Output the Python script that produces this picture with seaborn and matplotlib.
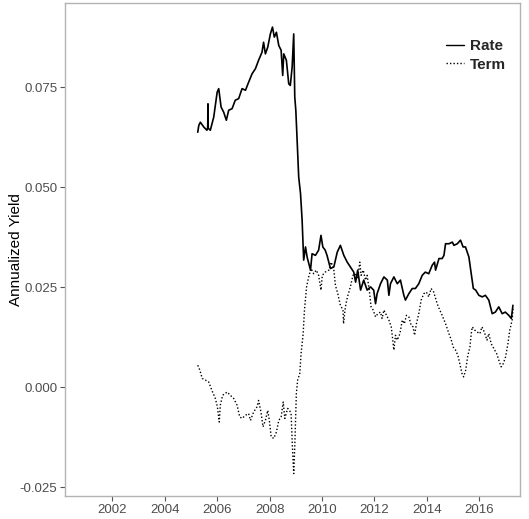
"""
Annualized yield: short rate vs term spread, recreated with seaborn.
"""

import pandas as pd
import matplotlib.pyplot as plt
import seaborn as sns

# Rate series (decimal year, annualized yield)
rate_year = [
    2005.26, 2005.30, 2005.36, 2005.49, 2005.61, 2005.64, 2005.65, 2005.66, 2005.74, 2005.87,
    2006.00, 2006.06, 2006.15, 2006.25, 2006.35, 2006.44, 2006.57, 2006.69, 2006.82, 2006.95,
    2007.08, 2007.20, 2007.33, 2007.46, 2007.58, 2007.71, 2007.77, 2007.84, 2007.93, 2008.03,
    2008.11, 2008.18, 2008.26, 2008.35, 2008.44, 2008.50, 2008.54, 2008.64, 2008.73, 2008.79,
    2008.86, 2008.92, 2008.96, 2009.00, 2009.05, 2009.11, 2009.18, 2009.24, 2009.28, 2009.30,
    2009.37, 2009.43, 2009.56, 2009.62, 2009.75, 2009.87, 2009.96, 2010.03, 2010.12, 2010.19,
    2010.32, 2010.45, 2010.58, 2010.70, 2010.83, 2010.96, 2011.08, 2011.21, 2011.28, 2011.36,
    2011.47, 2011.59, 2011.72, 2011.85, 2011.97, 2012.04, 2012.10, 2012.23, 2012.36, 2012.49,
    2012.55, 2012.61, 2012.74, 2012.87, 2012.99, 2013.12, 2013.18, 2013.31, 2013.44, 2013.56,
    2013.69, 2013.82, 2013.94, 2014.07, 2014.20, 2014.29, 2014.33, 2014.46, 2014.58, 2014.65,
    2014.71, 2014.84, 2014.97, 2015.03, 2015.16, 2015.28, 2015.38, 2015.47, 2015.60, 2015.69,
    2015.77, 2015.86, 2015.98, 2016.11, 2016.23, 2016.36, 2016.49, 2016.61, 2016.74, 2016.87,
    2016.99, 2017.12, 2017.22, 2017.28,
]
rate_value = [
    0.0638, 0.0655, 0.0663, 0.0651, 0.0643, 0.0650, 0.0709, 0.0648, 0.0643, 0.0676,
    0.0738, 0.0747, 0.0701, 0.0688, 0.0668, 0.0693, 0.0697, 0.0718, 0.0722, 0.0747,
    0.0743, 0.0763, 0.0784, 0.0797, 0.0818, 0.0838, 0.0863, 0.0834, 0.0851, 0.0884,
    0.0901, 0.0876, 0.0888, 0.0855, 0.0843, 0.0780, 0.0834, 0.0818, 0.0759, 0.0755,
    0.0801, 0.0884, 0.0726, 0.0693, 0.0618, 0.0526, 0.0484, 0.0418, 0.0351, 0.0318,
    0.0351, 0.0326, 0.0293, 0.0334, 0.0330, 0.0343, 0.0380, 0.0351, 0.0343, 0.0330,
    0.0297, 0.0301, 0.0338, 0.0355, 0.0330, 0.0313, 0.0301, 0.0288, 0.0263, 0.0293,
    0.0243, 0.0268, 0.0243, 0.0251, 0.0243, 0.0209, 0.0234, 0.0259, 0.0276, 0.0268,
    0.0230, 0.0259, 0.0276, 0.0259, 0.0268, 0.0230, 0.0218, 0.0234, 0.0247, 0.0247,
    0.0259, 0.0280, 0.0288, 0.0284, 0.0305, 0.0313, 0.0293, 0.0322, 0.0322, 0.0330,
    0.0359, 0.0359, 0.0363, 0.0355, 0.0359, 0.0368, 0.0351, 0.0351, 0.0326, 0.0284,
    0.0247, 0.0243, 0.0230, 0.0226, 0.0230, 0.0218, 0.0184, 0.0188, 0.0201, 0.0184,
    0.0188, 0.0180, 0.0172, 0.0205,
]

# Term series (decimal year, annualized yield)
term_year = [
    2005.26, 2005.34, 2005.43, 2005.55, 2005.68, 2005.80, 2005.93, 2006.01, 2006.08, 2006.12,
    2006.21, 2006.38, 2006.50, 2006.63, 2006.76, 2006.86, 2006.95, 2007.08, 2007.20, 2007.27,
    2007.39, 2007.52, 2007.58, 2007.67, 2007.75, 2007.84, 2007.93, 2007.99, 2008.06, 2008.16,
    2008.26, 2008.35, 2008.44, 2008.52, 2008.58, 2008.69, 2008.76, 2008.82, 2008.87, 2008.92,
    2008.96, 2008.99, 2009.02, 2009.07, 2009.15, 2009.20, 2009.28, 2009.33, 2009.41, 2009.49,
    2009.58, 2009.68, 2009.78, 2009.87, 2009.96, 2010.01, 2010.12, 2010.26, 2010.35, 2010.45,
    2010.51, 2010.60, 2010.70, 2010.80, 2010.82, 2010.89, 2010.97, 2011.08, 2011.18, 2011.27,
    2011.36, 2011.44, 2011.49, 2011.57, 2011.66, 2011.72, 2011.81, 2011.87, 2011.95, 2012.04,
    2012.13, 2012.23, 2012.29, 2012.36, 2012.46, 2012.55, 2012.64, 2012.74, 2012.80, 2012.87,
    2012.97, 2013.06, 2013.14, 2013.22, 2013.31, 2013.40, 2013.47, 2013.53, 2013.60, 2013.69,
    2013.78, 2013.88, 2013.98, 2014.07, 2014.16, 2014.26, 2014.33, 2014.39, 2014.49, 2014.58,
    2014.71, 2014.84, 2014.93, 2015.00, 2015.09, 2015.18, 2015.28, 2015.34, 2015.40, 2015.48,
    2015.55, 2015.64, 2015.69, 2015.73, 2015.82, 2015.92, 2016.02, 2016.10, 2016.19, 2016.29,
    2016.36, 2016.45, 2016.55, 2016.66, 2016.74, 2016.83, 2016.91, 2017.00, 2017.09, 2017.16,
    2017.25, 2017.29,
]
term_value = [
    0.0055, 0.0043, 0.0022, 0.0018, 0.0013, -0.0008, -0.0028, -0.0049, -0.0087, -0.0045,
    -0.0020, -0.0012, -0.0020, -0.0028, -0.0045, -0.0074, -0.0078, -0.0070, -0.0066, -0.0083,
    -0.0062, -0.0049, -0.0033, -0.0062, -0.0099, -0.0083, -0.0058, -0.0083, -0.0124, -0.0128,
    -0.0112, -0.0083, -0.0074, -0.0037, -0.0078, -0.0053, -0.0058, -0.0066, -0.0149, -0.0216,
    -0.0149, -0.0083, -0.0016, 0.0018, 0.0034, 0.0084, 0.0134, 0.0193, 0.0251, 0.0276,
    0.0297, 0.0284, 0.0293, 0.0280, 0.0243, 0.0280, 0.0288, 0.0293, 0.0313, 0.0293,
    0.0255, 0.0234, 0.0205, 0.0193, 0.0159, 0.0201, 0.0226, 0.0251, 0.0280, 0.0284,
    0.0272, 0.0313, 0.0280, 0.0293, 0.0268, 0.0280, 0.0238, 0.0201, 0.0193, 0.0176,
    0.0184, 0.0188, 0.0172, 0.0193, 0.0180, 0.0168, 0.0151, 0.0093, 0.0130, 0.0118,
    0.0134, 0.0168, 0.0159, 0.0180, 0.0176, 0.0155, 0.0151, 0.0130, 0.0159, 0.0184,
    0.0218, 0.0234, 0.0238, 0.0226, 0.0247, 0.0238, 0.0222, 0.0209, 0.0193, 0.0180,
    0.0159, 0.0134, 0.0118, 0.0101, 0.0093, 0.0080, 0.0051, 0.0034, 0.0026, 0.0043,
    0.0076, 0.0101, 0.0134, 0.0151, 0.0143, 0.0138, 0.0134, 0.0151, 0.0138, 0.0118,
    0.0134, 0.0109, 0.0097, 0.0084, 0.0068, 0.0051, 0.0059, 0.0076, 0.0109, 0.0143,
    0.0168, 0.0201,
]

x_ticks = [2002, 2004, 2006, 2008, 2010, 2012, 2014, 2016]
y_ticks = [-0.025, 0.000, 0.025, 0.050, 0.075]
y_tick_labels = ["-0.025", "0.000", "0.025", "0.050", "0.075"]

rate_df = pd.DataFrame({"year": rate_year, "value": rate_value})
term_df = pd.DataFrame({"year": term_year, "value": term_value})

sns.set_theme(style="white")
plt.rcParams['font.family'] = ['Liberation Sans', 'DejaVu Sans']

fig = plt.figure(figsize=(5.29, 5.19), dpi=100)
ax = fig.add_axes([0.123, 0.044, 0.860, 0.950])

sns.lineplot(data=rate_df, x="year", y="value", ax=ax, color="black",
             linewidth=1.2, label="Rate")
sns.lineplot(data=term_df, x="year", y="value", ax=ax, color="black",
             linewidth=1.0, linestyle=(0, (1, 1.5)), label="Term")

ax.set_xlim(2000.2, 2017.55)
ax.set_ylim(-0.02725, 0.0961)
ax.set_xticks(x_ticks)
ax.set_xticklabels([str(t) for t in x_ticks])
ax.set_yticks(y_ticks)
ax.set_yticklabels(y_tick_labels)
ax.set_xlabel("")
ax.set_ylabel("Annualized Yield", fontsize=11, color="black")
ax.yaxis.set_label_coords(-0.092, 0.5)

for spine in ax.spines.values():
    spine.set_color("#b3b3b3")
    spine.set_linewidth(1.0)
ax.tick_params(axis="both", which="major", length=3.5, width=0.8, color="#555555",
               labelsize=9.5, labelcolor="#4d4d4d", pad=2, bottom=True, left=True)

leg = ax.legend(loc="upper right", bbox_to_anchor=(1.0, 0.955), frameon=False,
                handlelength=1.2, handletextpad=0.4, labelspacing=0.3,
                prop={"weight": "bold", "size": 11})
for line in leg.get_lines():
    line.set_linewidth(1.0)

fig.savefig("out.png", dpi=100)
plt.close(fig)
